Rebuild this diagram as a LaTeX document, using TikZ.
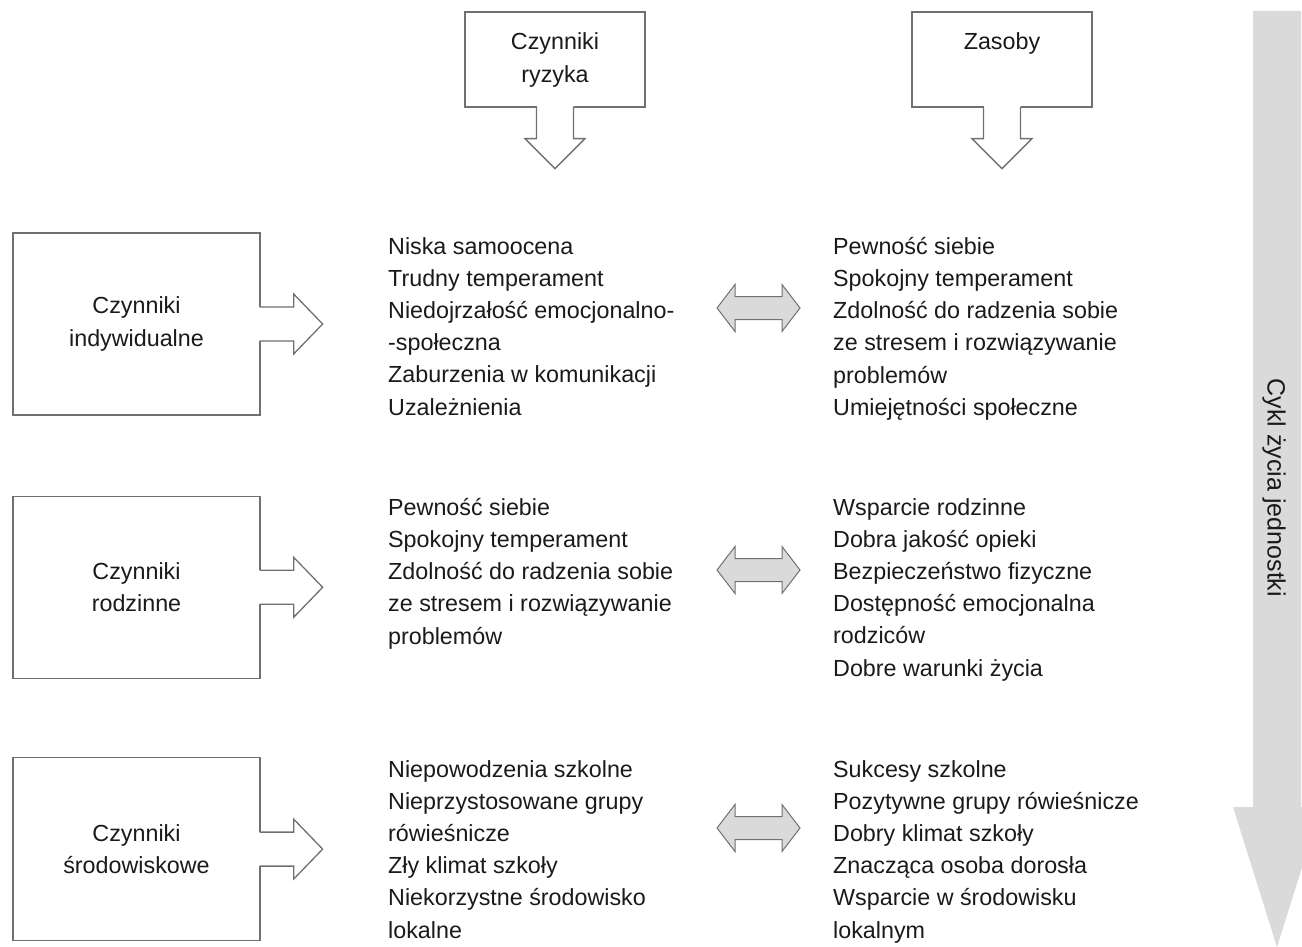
\documentclass[tikz,border=0pt]{standalone}
\usepackage{fontspec}
\setmainfont{Liberation Sans}
\usetikzlibrary{positioning}
\definecolor{ramka}{HTML}{707070}
\definecolor{szary}{HTML}{DADADA}
\definecolor{tekst}{HTML}{1A1A1A}
\begin{document}
\begin{tikzpicture}[x=1pt, y=-1pt,
    pudlo/.style={draw=ramka, line width=1.3pt, fill=white, align=center,
      text=tekst, font=\fontsize{23.3}{32.2}\selectfont},
    lista/.style={anchor=north west, inner sep=0pt, align=left,
      text=tekst, font=\fontsize{23.3}{32.2}\selectfont},
    strzalka/.style={draw=ramka, line width=1.3pt, line join=miter},
    dwustronna/.style={draw=ramka, line width=1pt, fill=szary}]
    \useasboundingbox (0,0) rectangle (1302,947);
    % Cykl zycia
    \fill[szary]
       (1253,11)
    -- (1301,11)
    -- (1301,807)
    -- (1321,807)
    -- (1277,947)
    -- (1233,807)
    -- (1253,807)
    -- cycle;
    \node[rotate=-90, text=tekst, font=\fontsize{25}{30}\selectfont] (cykl)
       at (1274,488) {Cykl życia jednostki};
    % Naglowki
    \node[pudlo, minimum width=180pt, minimum height=95pt] (ryzykabox) at (555,59.5) {};
    \node[pudlo, minimum width=180pt, minimum height=95pt] (zasobybox) at (1002,59.5) {};
    \node[pudlo, draw=none, fill=none, inner sep=0pt, anchor=north] (ryzyka)
       at ([yshift=-21pt]ryzykabox.north) {Czynniki\\ryzyka};
    \node[pudlo, draw=none, fill=none, inner sep=0pt, anchor=north] (zasoby)
       at ([yshift=-21pt]zasobybox.north) {Zasoby};
    \foreach \b in {ryzykabox,zasobybox}{
      \fill[white] ([yshift=3pt]\b.south) ++(-18.5,0) rectangle ++(37,5);
      \draw[strzalka] ([yshift=1pt]\b.south) ++(-18.5,0)
      -- ++(0,32) -- ++(-11.5,0) -- ++(30,30) -- ++(30,-30) -- ++(-11.5,0) -- ++(0,-32);
    }
    % Czynniki
    \node[pudlo, minimum width=247pt, minimum height=182pt] (indyw) at (136.5,324)
       {Czynniki\\indywidualne};
    \node[pudlo, minimum width=247pt, minimum height=182pt, below=80pt of indyw] (rodz)
       {Czynniki\\rodzinne};
    \node[pudlo, minimum width=247pt, minimum height=183pt, below=78pt of rodz] (srod)
       {Czynniki\\środowiskowe};
    \foreach \b in {indyw,rodz,srod}{
      \fill[white] ([xshift=-3pt]\b.east) ++(0,-17) rectangle ++(5,34);
      \draw[strzalka] ([xshift=-1pt]\b.east) ++(0,-17)
      -- ++(34,0) -- ++(0,-13) -- ++(29,30) -- ++(-29,30) -- ++(0,-13) -- ++(-34,0);
    }
    % Listy
    \node[lista] (ryz1) at (388,237) {Niska samoocena\\Trudny temperament\\
       Niedojrzałość emocjonalno-\\-społeczna\\Zaburzenia w komunikacji\\Uzależnienia};
    \node[lista] (zas1) at (833,237) {Pewność siebie\\Spokojny temperament\\
       Zdolność do radzenia sobie\\ze stresem i rozwiązywanie\\problemów\\Umiejętności społeczne};
    \node[lista] (ryz2) at (388,498) {Pewność siebie\\Spokojny temperament\\
       Zdolność do radzenia sobie\\ze stresem i rozwiązywanie\\problemów};
    \node[lista] (zas2) at (833,498) {Wsparcie rodzinne\\Dobra jakość opieki\\
       Bezpieczeństwo fizyczne\\Dostępność emocjonalna\\rodziców\\Dobre warunki życia};
    \node[lista] (ryz3) at (388,760) {Niepowodzenia szkolne\\Nieprzystosowane grupy\\
       rówieśnicze\\Zły klimat szkoły\\Niekorzystne środowisko\\lokalne};
    \node[lista] (zas3) at (833,760) {Sukcesy szkolne\\Pozytywne grupy rówieśnicze\\
       Dobry klimat szkoły\\Znacząca osoba dorosła\\Wsparcie w środowisku\\lokalnym};
    % Strzalki dwustronne
    \foreach \y in {308,570,828}
      \draw[dwustronna]
         (717,\y)
      -- (735,\y-23.5)
      -- (735,\y-11.5)
      -- (782,\y-11.5)
      -- (782,\y-23.5)
      -- (800,\y)
      -- (782,\y+23.5)
      -- (782,\y+11.5)
      -- (735,\y+11.5)
      -- (735,\y+23.5)
      -- cycle;
\end{tikzpicture}
\end{document}
